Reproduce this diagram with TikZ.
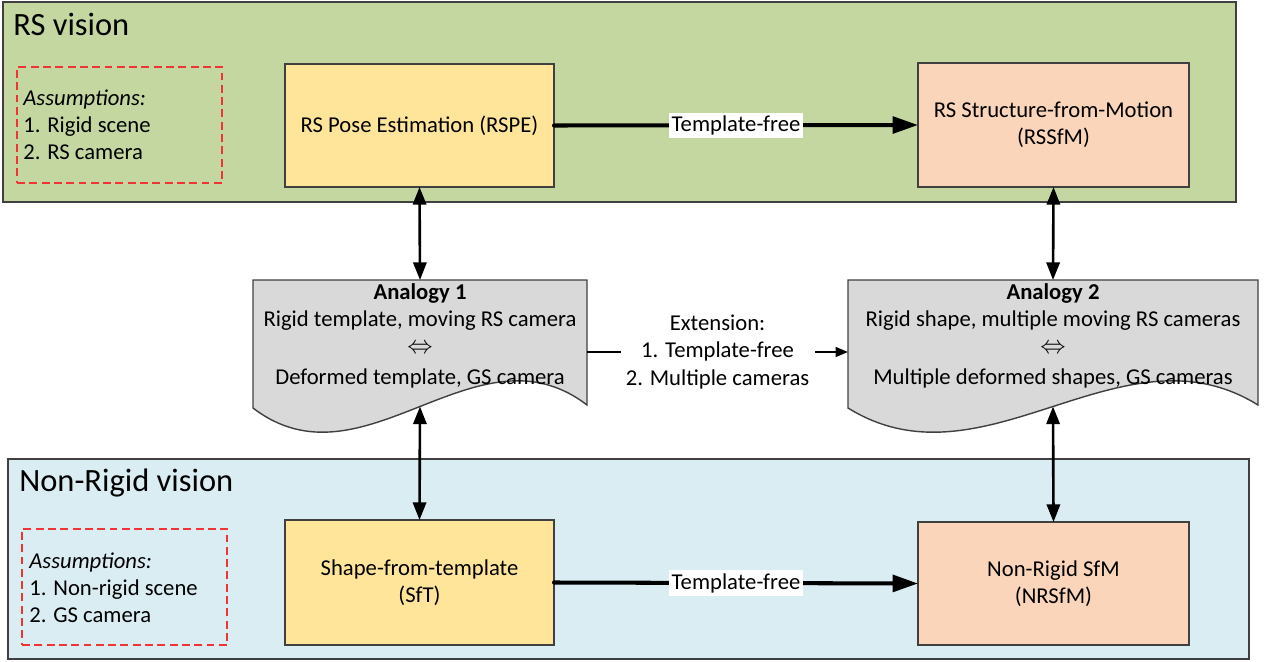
\documentclass[tikz,border=0pt]{standalone}
\usepackage{fontspec}
\setmainfont{Carlito}
\usetikzlibrary{arrows.meta}
\definecolor{rsgreen}{RGB}{196,215,160}
\definecolor{nrblue}{RGB}{218,237,243}
\definecolor{boxyellow}{RGB}{255,229,153}
\definecolor{boxpeach}{RGB}{250,213,185}
\definecolor{anagray}{RGB}{217,217,217}
\definecolor{dashred}{RGB}{238,52,52}
\definecolor{edgegray}{RGB}{64,64,64}
\tikzset{
  panel/.style={draw=edgegray, line width=0.8pt, inner sep=0pt, outer sep=0pt},
  paneltitle/.style={anchor=west, inner sep=0pt, font=\fontsize{18.5}{22}\selectfont},
  procbox/.style={draw=edgegray, line width=0.8pt, inner sep=0pt, outer sep=0pt, align=center, font=\fontsize{12.9}{15.2}\selectfont},
  assume/.style={draw=dashred, line width=0.8pt, dash pattern=on 4.5pt off 2.5pt, inner sep=0pt},
  assumetext/.style={anchor=west, align=left, inner sep=0pt, font=\fontsize{12.9}{15.4}\selectfont},
  anashape/.style={fill=anagray, draw=edgegray, line width=0.8pt},
  anatext/.style={align=center, inner sep=0pt, font=\fontsize{12.9}{15.2}\selectfont},
  thickarrow/.style={line width=2.3pt, line cap=round, -{Triangle[length=14.5pt,width=9.5pt]}},
  dblarrow/.style={line width=1.5pt, {Triangle[length=10pt,width=7.5pt]}-{Triangle[length=10pt,width=7.5pt]}},
  extarrow/.style={line width=1.2pt, -{Triangle[length=7pt,width=5.5pt]}},
  lbl/.style={fill=white, inner sep=1.6pt, font=\fontsize{12.9}{15}\selectfont},
  extlbl/.style={fill=white, inner sep=3pt, align=center, font=\fontsize{12.9}{15.4}\selectfont}
}
\begin{document}
\begin{tikzpicture}[x=0.02cm, y=-0.02cm]
\useasboundingbox (0,0) rectangle (1264,662);
% panels
\node[panel, fill=rsgreen, minimum width=24.66cm, minimum height=4cm] (rspanel) at (619.5,102) {};
\node[paneltitle] (rstitle) at (13,24) {RS vision};
\node[panel, fill=nrblue, minimum width=24.82cm, minimum height=4cm] (nrpanel) at (628.5,559) {};
\node[paneltitle] (nrtitle) at (19,483) {Non-Rigid vision};
% assumptions
\node[assume, minimum width=4.1cm, minimum height=2.32cm] (asm1) at (119.5,125) {};
\node[assumetext] (asm1t) at (23,125) {\textit{Assumptions:}\\1. Rigid scene\\2. RS camera};
\node[assume, minimum width=4.1cm, minimum height=2.32cm] (asm2) at (124.5,587) {};
\node[assumetext] (asm2t) at (29,588) {\textit{Assumptions:}\\1. Non-rigid scene\\2. GS camera};
% process boxes
\node[procbox, fill=boxyellow, minimum width=5.38cm, minimum height=2.46cm] (rspe) at (419.5,125.5) {RS Pose Estimation (RSPE)};
\node[procbox, fill=boxpeach, minimum width=5.42cm, minimum height=2.48cm] (rssfm) at (1053.5,125) {RS Structure-from-Motion\\(RSSfM)};
\node[procbox, fill=boxyellow, minimum width=5.38cm, minimum height=2.5cm] (sft) at (419.5,582.5) {Shape-from-template\\(SfT)};
\node[procbox, fill=boxpeach, minimum width=5.42cm, minimum height=2.46cm] (nrsfm) at (1053.5,583.5) {Non-Rigid SfM\\(NRSfM)};
% analogy shapes
\draw[anashape] (253,280) -- (587,280) -- (587,405)
  .. controls (476,320) and (364,493) .. (253,408) -- cycle;
\coordinate (a1top) at (420,280);
\coordinate (a1right) at (587,352);
\coordinate (a1bot) at (420,406.5);
\node[anatext] (a1) at (420,336) {\textbf{Analogy 1}\\Rigid template, moving RS camera\\[0.5pt]{\fontsize{14}{15}\selectfont$\Leftrightarrow$}\\[2.5pt]Deformed template, GS camera};
\draw[anashape] (848,280) -- (1258,280) -- (1258,405)
  .. controls (1121,320) and (985,493) .. (848,408) -- cycle;
\coordinate (a2top) at (1053,280);
\coordinate (a2left) at (848,352);
\coordinate (a2bot) at (1053,406.5);
\node[anatext] (a2) at (1053,336) {\textbf{Analogy 2}\\Rigid shape, multiple moving RS cameras\\[0.5pt]{\fontsize{14}{15}\selectfont$\Leftrightarrow$}\\[2.5pt]Multiple deformed shapes, GS cameras};
% connectors
\draw[thickarrow] (rspe.east) -- node[lbl] {Template-free} (rssfm.west);
\draw[thickarrow] (sft.east) -- node[lbl] {Template-free} (nrsfm.west);
\draw[dblarrow] (rspe.south) -- (a1top);
\draw[dblarrow] (a1bot) -- (sft.north);
\draw[dblarrow] (rssfm.south) -- (a2top);
\draw[dblarrow] (a2bot) -- (nrsfm.north);
\draw[extarrow] (a1right) -- node[extlbl] {Extension:\\1. Template-free\\2. Multiple cameras} (a2left);
\end{tikzpicture}
\end{document}
